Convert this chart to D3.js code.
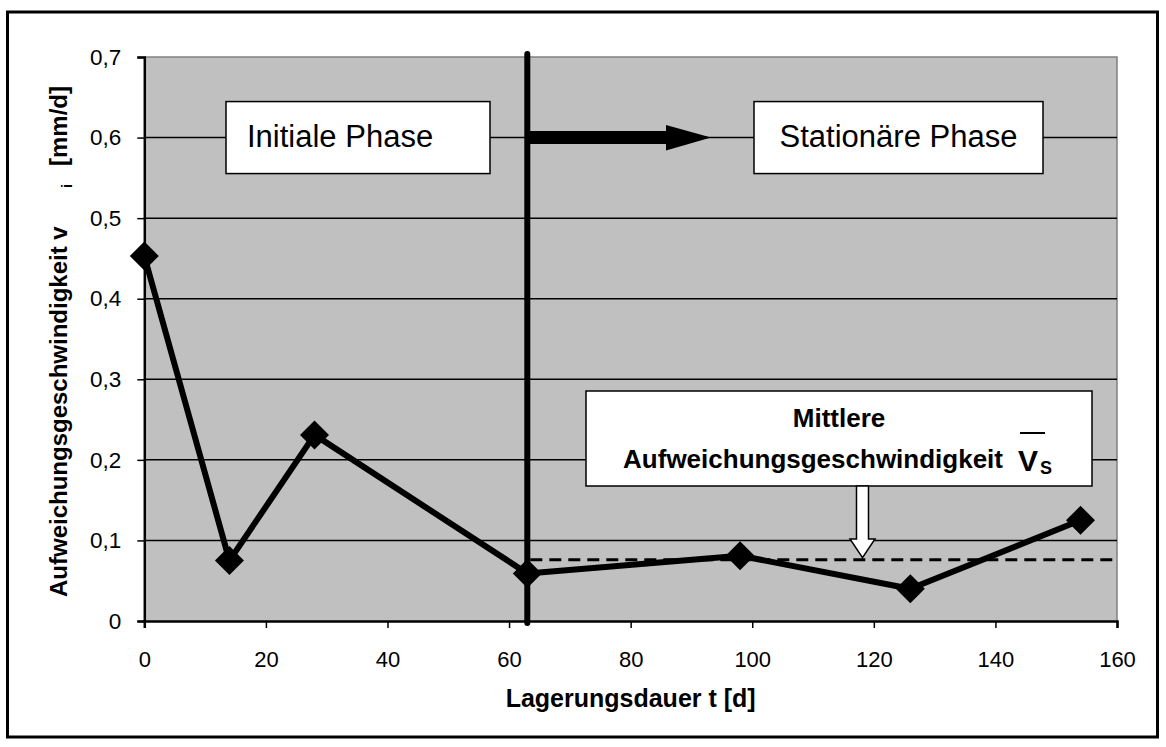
<!DOCTYPE html>
<html>
<head>
<meta charset="utf-8">
<script src="https://cdn.jsdelivr.net/npm/d3@7"></script>
<style>
  html, body { margin: 0; padding: 0; background: #fff; }
  svg { display: block; }
  text { font-family: "Liberation Sans", Arial, sans-serif; fill: #000; }
</style>
</head>
<body>
<script>
// ---------- data ----------
const storageDays = [0, 14, 28, 63, 98, 126, 154];            // Lagerungsdauer t [d]
const softeningRate = [0.453, 0.075, 0.231, 0.059, 0.081, 0.040, 0.125]; // v_i [mm/d]
const xTickValues = [0, 20, 40, 60, 80, 100, 120, 140, 160];
const yTickValues = [0, 0.1, 0.2, 0.3, 0.4, 0.5, 0.6, 0.7];
const yTickLabels = ["0", "0,1", "0,2", "0,3", "0,4", "0,5", "0,6", "0,7"];
const phaseBoundaryDay = 63;
const meanStationaryRate = 0.076;
const phaseLabels = ["Initiale Phase", "Stationäre Phase"];
const meanLabelLines = ["Mittlere", "Aufweichungsgeschwindigkeit"];
const xTitle = "Lagerungsdauer t [d]";
const yTitleParts = ["Aufweichungsgeschwindigkeit v", "i", "[mm/d]"];

// ---------- layout ----------
const W = 1166, H = 747;
const plot = { left: 144.3, right: 1117, top: 57, bottom: 621 };

const svg = d3.select("body").append("svg").attr("width", W).attr("height", H);

// outer frame
svg.append("rect").attr("x", 7.5).attr("y", 12).attr("width", 1150).attr("height", 725)
  .attr("fill", "#fff").attr("stroke", "#000").attr("stroke-width", 3);

const x = d3.scaleLinear().domain([0, 160]).range([plot.left, plot.right]);
const y = d3.scaleLinear().domain([0, 0.7]).range([plot.bottom, plot.top]);

// plot background
svg.append("rect").attr("x", plot.left).attr("y", plot.top)
  .attr("width", plot.right - plot.left).attr("height", plot.bottom - plot.top)
  .attr("fill", "#c0c0c0");

// plot border top/right (gray)
svg.append("path")
  .attr("d", `M${plot.left},${plot.top}H${plot.right}V${plot.bottom}`)
  .attr("fill", "none").attr("stroke", "#808080").attr("stroke-width", 1.5);

// gridlines
svg.append("g").selectAll("line").data(yTickValues.filter(v => v > 0 && v < 0.7)).join("line")
  .attr("x1", plot.left).attr("x2", plot.right)
  .attr("y1", d => y(d)).attr("y2", d => y(d))
  .attr("stroke", "#000").attr("stroke-width", 1.5);

// axes
const yAxis = d3.axisLeft(y).tickValues(yTickValues).tickSize(7).tickPadding(16)
  .tickFormat((d, i) => yTickLabels[i]);
const gy = svg.append("g").attr("transform", `translate(${plot.left},0)`).call(yAxis);
gy.select(".domain").attr("stroke", "#000").attr("stroke-width", 2.5);
gy.selectAll(".tick line").attr("stroke", "#000").attr("stroke-width", 1.5);
gy.selectAll(".tick text").attr("font-size", 22.5).attr("font-family", "Liberation Sans, Arial, sans-serif");

const xAxis = d3.axisBottom(x).tickValues(xTickValues).tickSize(7).tickSizeOuter(7).tickPadding(0);
const gx = svg.append("g").attr("transform", `translate(0,${plot.bottom})`).call(xAxis);
gx.select(".domain").attr("stroke", "#000").attr("stroke-width", 2.5);
gx.selectAll(".tick line").attr("stroke", "#000").attr("stroke-width", 1.5);
gx.selectAll(".tick text").attr("font-size", 22).attr("font-family", "Liberation Sans, Arial, sans-serif")
  .attr("y", 46).attr("dy", null);

// phase boundary vertical line
svg.append("line")
  .attr("x1", x(phaseBoundaryDay)).attr("x2", x(phaseBoundaryDay))
  .attr("y1", plot.top - 3).attr("y2", plot.bottom + 2)
  .attr("stroke", "#000").attr("stroke-width", 6).attr("stroke-linecap", "round");

// mean (dashed) line in stationary phase
svg.append("line")
  .attr("x1", x(phaseBoundaryDay) + 3).attr("x2", plot.right)
  .attr("y1", y(meanStationaryRate)).attr("y2", y(meanStationaryRate))
  .attr("stroke", "#000").attr("stroke-width", 3).attr("stroke-dasharray", "12,7");

// data line
const line = d3.line().x((d, i) => x(storageDays[i])).y(d => y(d));
svg.append("path").datum(softeningRate).attr("d", line)
  .attr("fill", "none").attr("stroke", "#000").attr("stroke-width", 6)
  .attr("stroke-linejoin", "round");

// diamonds
const dm = 14.5;
svg.append("g").selectAll("path").data(softeningRate).join("path")
  .attr("d", (d, i) => {
    const cx = x(storageDays[i]), cy = y(d);
    return `M${cx},${cy - dm}L${cx + dm},${cy}L${cx},${cy + dm}L${cx - dm},${cy}Z`;
  })
  .attr("fill", "#000");

// phase boxes
const boxH = 72;
const by = y(0.6) - boxH / 2;
svg.append("rect").attr("x", 226).attr("y", by).attr("width", 264).attr("height", boxH)
  .attr("fill", "#fff").attr("stroke", "#000").attr("stroke-width", 1.5);
svg.append("text").attr("x", 247).attr("y", 147).attr("font-size", 31).text(phaseLabels[0]);

svg.append("rect").attr("x", 754).attr("y", by).attr("width", 289).attr("height", boxH)
  .attr("fill", "#fff").attr("stroke", "#000").attr("stroke-width", 1.5);
svg.append("text").attr("x", 898.5).attr("y", 147).attr("font-size", 31)
  .attr("text-anchor", "middle").text(phaseLabels[1]);

// big arrow from boundary towards stationary phase
{
  const x0 = x(phaseBoundaryDay) + 2, xHead = 666, xTip = 711, cy = y(0.6);
  svg.append("path")
    .attr("d", `M${x0},${cy - 6.5}H${xHead}V${cy - 12.5}L${xTip},${cy}L${xHead},${cy + 13}V${cy + 6.5}H${x0}Z`)
    .attr("fill", "#000");
}

// mean annotation box
svg.append("rect").attr("x", 586).attr("y", 391).attr("width", 506).attr("height", 95)
  .attr("fill", "#fff").attr("stroke", "#000").attr("stroke-width", 1.5);
svg.append("text").attr("x", 839).attr("y", 427).attr("font-size", 26).attr("font-weight", "bold")
  .attr("text-anchor", "middle").text(meanLabelLines[0]);
svg.append("text").attr("x", 1003).attr("y", 468).attr("font-size", 26).attr("font-weight", "bold")
  .attr("text-anchor", "end").text(meanLabelLines[1]);
svg.append("text").attr("x", 1018).attr("y", 471).attr("font-size", 30).attr("font-weight", "bold").text("V");
svg.append("text").attr("x", 1040).attr("y", 474).attr("font-size", 18).attr("font-weight", "bold").text("S");
svg.append("line").attr("x1", 1020).attr("x2", 1045).attr("y1", 433).attr("y2", 433)
  .attr("stroke", "#000").attr("stroke-width", 2);

// small hollow arrow pointing to mean line
{
  const cx = 862.5, tipY = y(meanStationaryRate) - 2, top = 486, headY = 539;
  svg.append("path")
    .attr("d", `M${cx - 6},${top}V${headY}H${cx - 12.5}L${cx},${tipY}L${cx + 12.5},${headY}H${cx + 6}V${top}Z`)
    .attr("fill", "#fff").attr("stroke", "#000").attr("stroke-width", 1.5);
}

// axis titles
svg.append("text").attr("x", (plot.left + plot.right) / 2).attr("y", 707)
  .attr("text-anchor", "middle").attr("font-size", 25).attr("font-weight", "bold").text(xTitle);

const yt = svg.append("g").attr("transform", "translate(67,597) rotate(-90)");
yt.append("text").attr("x", 0).attr("y", 0).attr("font-size", 24).attr("font-weight", "bold").text(yTitleParts[0]);
yt.append("text").attr("x", 409).attr("y", 5).attr("font-size", 15).attr("font-weight", "bold").text(yTitleParts[1]);
yt.append("text").attr("x", 431).attr("y", 0).attr("font-size", 24).attr("font-weight", "bold").text(yTitleParts[2]);
</script>
</body>
</html>
